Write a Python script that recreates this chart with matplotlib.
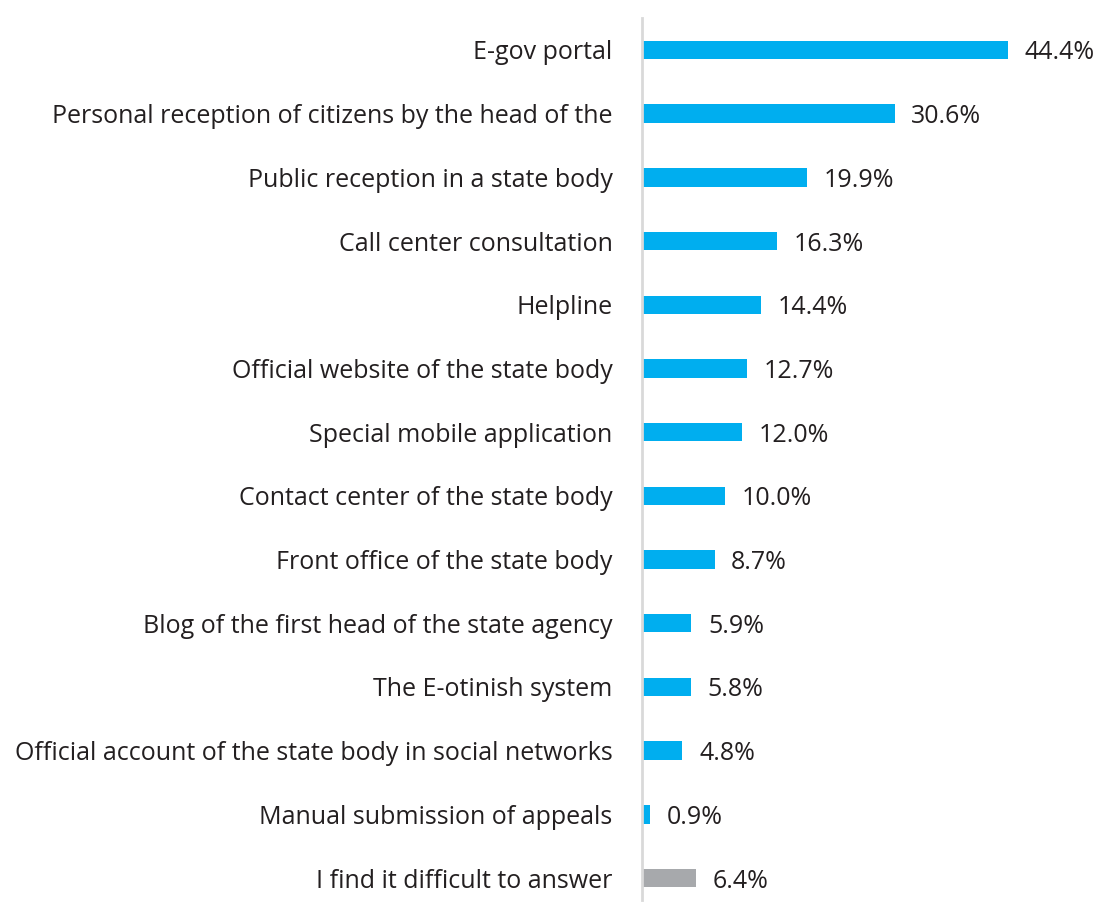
import matplotlib
matplotlib.use("Agg")
import matplotlib.pyplot as plt

categories = [
    "E-gov portal",
    "Personal reception of citizens by the head of the",
    "Public reception in a state body",
    "Call center consultation",
    "Helpline",
    "Official website of the state body",
    "Special mobile application",
    "Contact center of the state body",
    "Front office of the state body",
    "Blog of the first head of the state agency",
    "The E-otinish system",
    "Official account of the state body in social networks",
    "Manual submission of appeals",
    "I find it difficult to answer",
]
values = [44.4, 30.6, 19.9, 16.3, 14.4, 12.7, 12.0, 10.0, 8.7, 5.9, 5.8, 4.8, 0.9, 6.4]

BLUE = "#00AEEF"
GRAY = "#A7A9AC"
TEXT = "#231F20"
colors = [BLUE] * (len(values) - 1) + [GRAY]

plt.rcParams["font.family"] = ["Open Sans", "DejaVu Sans"]
FS = 18

W, H = 1098, 902
fig = plt.figure(figsize=(W / 100, H / 100), dpi=100)
left_px, right_px, top_px, bottom_px = 643, 1098, 18, 900
ax = fig.add_axes([left_px / W, 1 - bottom_px / H,
                   (right_px - left_px) / W, (bottom_px - top_px) / H])

ypos = list(range(len(categories)))
ax.barh(ypos, values, height=0.29, color=colors, edgecolor="none")

ax.set_xlim(0, (right_px - left_px) / 8.22)
ax.set_ylim(13.345, -0.502)

for y, v in zip(ypos, values):
    ax.annotate(f"{v:.1f}%", xy=(v, y), xytext=(12, 0), textcoords="offset points",
                va="center_baseline", ha="left", fontsize=FS, color=TEXT)

ax.set_yticks(ypos)
ax.set_yticklabels(categories)
ax.tick_params(axis="y", length=0, pad=21, labelsize=FS, labelcolor=TEXT)
ax.set_xticks([])

for s in ("top", "right", "bottom"):
    ax.spines[s].set_visible(False)
ax.spines["left"].set_color("#D9D9D9")
ax.spines["left"].set_linewidth(2)
ax.spines["left"].set_position(("outward", 1))

fig.savefig("out.png", dpi=100)
